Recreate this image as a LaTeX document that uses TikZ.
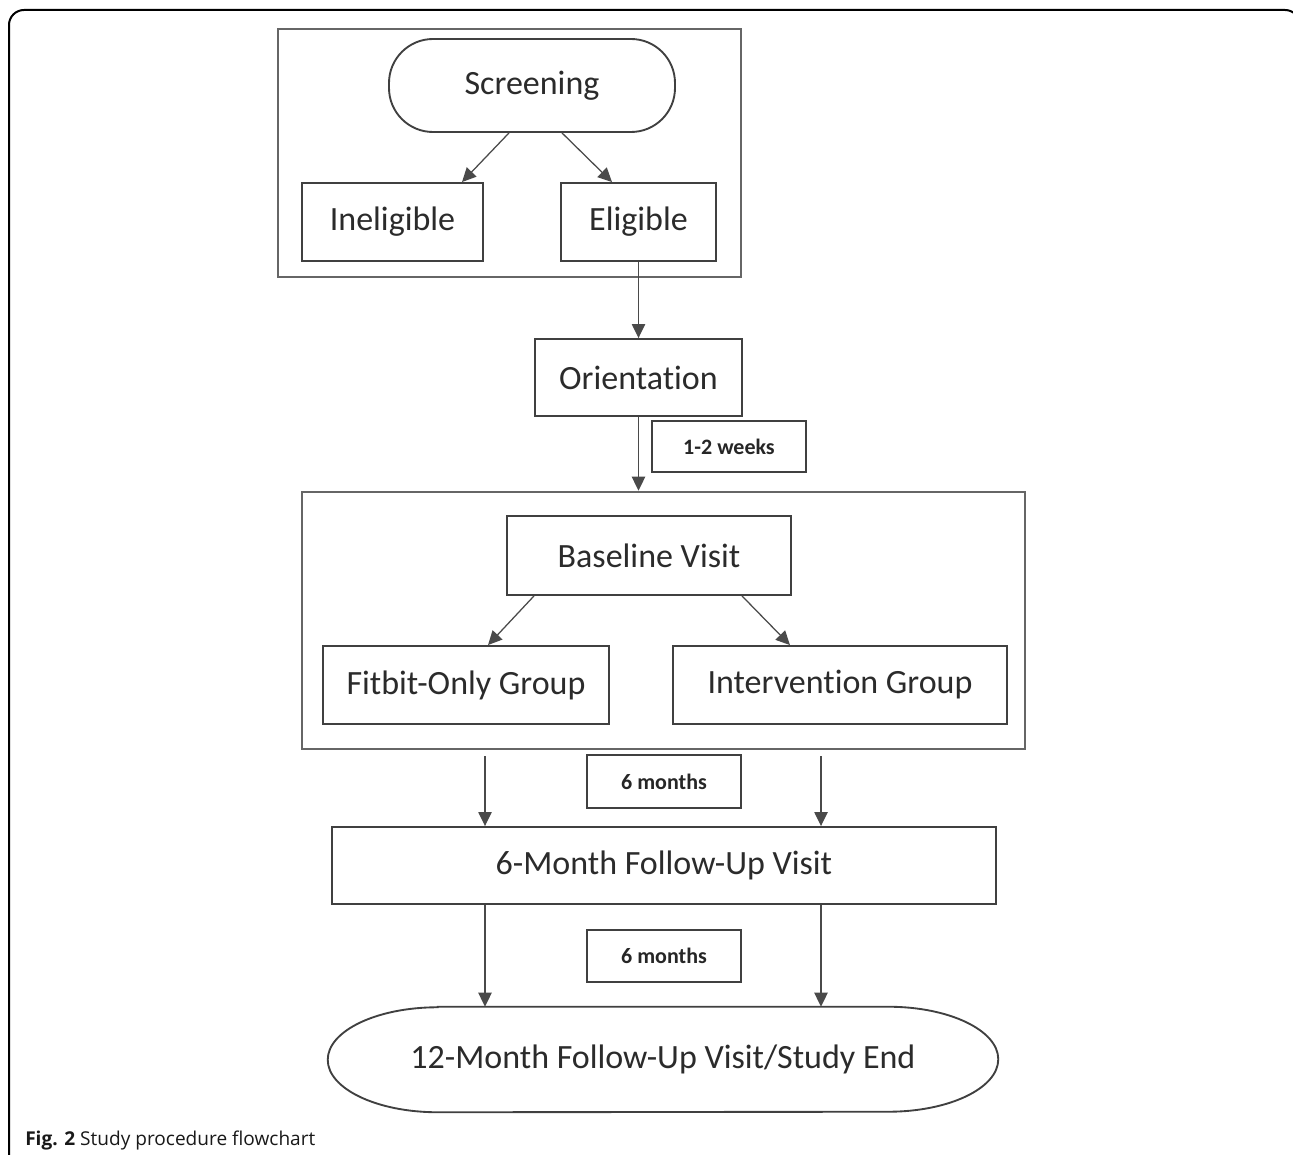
\documentclass[tikz,border=0pt]{standalone}
\usepackage{fontspec}
\setmainfont{Carlito}[Ligatures=NoCommon]
\newfontfamily\capfont{Open Sans}
\usetikzlibrary{arrows.meta,calc}
\definecolor{txt}{HTML}{2B2B2B}
\definecolor{edge}{HTML}{404040}
\definecolor{grpedge}{HTML}{666666}
\definecolor{conncol}{HTML}{4A4A4A}
\begin{document}
\begin{tikzpicture}[x=0.75pt,y=-0.75pt,
  sz/.style 2 args={minimum width=#1*0.75pt, minimum height=#2*0.75pt},
  box/.style={draw=edge,line width=1.4pt,rectangle,inner sep=0pt,text=txt,font=\fontsize{25.5}{30}\selectfont},
  grp/.style={draw=grpedge,line width=1.9pt,rectangle,inner sep=0pt},
  lbl/.style={draw=edge,line width=1.6pt,rectangle,inner sep=0pt,text=black!85,font=\bfseries\fontsize{16.5}{20}\selectfont},
  conn/.style={draw=conncol,line width=0.95pt,-{Triangle[length=10.5pt,width=10pt]}},
]
\useasboundingbox (0,0) rectangle (1293,1155);
\clip (0,0) rectangle (1293,1155);
\fill[white] (0,0) rectangle (1293,1155);

% outer frame
\draw[line width=1.5pt,black] (9,1160) -- (9,25) arc[start angle=180,end angle=90,radius=11.25pt]
  -- (1285,10) arc[start angle=90,end angle=0,radius=11.25pt] -- (1300,1160);

% top group
\node[grp,sz={463}{248}] (grp1) at (509.5,153) {};
\node[box,sz={286}{93},rounded corners=33pt] (scr) at (532,85.5) {Screening};
\node[box,sz={181}{78}] (inel) at (392.5,222) {Ineligible};
\node[box,sz={155}{78}] (elig) at (638.5,222) {Eligible};
\draw[conn] ($(scr.south)+(-23,0)$) -- ($(inel.north)+(69.5,0)$);
\draw[conn] ($(scr.south)+(30,0)$) -- ($(elig.north)+(-26.5,0)$);

% orientation
\node[box,sz={207}{77}] (ori) at (638.5,377.5) {Orientation};
\draw[conn] (elig.south) -- (ori.north);
\node[lbl,sz={154}{51}] (wk) at (729,446.5) {1-2 weeks};

% baseline group
\node[grp,sz={723}{257}] (grp2) at (663.5,620.5) {};
\draw[conn] (ori.south) -- (ori.south |- grp2.north);
\node[box,sz={284}{79}] (base) at (649,555.5) {Baseline Visit};
\node[box,sz={286}{78}] (fit) at (466,685) {Fitbit-Only Group};
\node[box,sz={334}{78}] (int) at (840,685) {Intervention Group};
\draw[conn] ($(base.south)+(-115,0)$) -- ($(fit.north)+(22,0)$);
\draw[conn] ($(base.south)+(93,0)$) -- ($(int.north)+(-50,0)$);

% 6-month follow-up
\node[lbl,sz={154}{53}] (m1) at (664,781.5) {6 months};
\node[box,sz={664}{77}] (fu) at (664,865.5) {6-Month Follow-Up Visit};
\draw[conn] ($(grp2.south)+(-178.5,6)$) -- ($(fu.north)+(-179,0)$);
\draw[conn] ($(grp2.south)+(157.5,6)$) -- ($(fu.north)+(157,0)$);

% 12-month end
\node[lbl,sz={154}{52}] (m2) at (664,956) {6 months};
\node[inner sep=0pt,sz={670}{105},text=txt,font=\fontsize{25.5}{30}\selectfont] (endn) at (663,1059.5) {12-Month Follow-Up Visit/Study End};
\draw[draw=edge,line width=1.4pt]
  ($(endn.north west)+(110,0)$) -- ($(endn.north east)+(-110,0)$)
  arc[start angle=90,end angle=-90,x radius=82.5pt,y radius=39.375pt]
  -- ($(endn.south west)+(110,0)$)
  arc[start angle=270,end angle=90,x radius=82.5pt,y radius=39.375pt] -- cycle;
\draw[conn] ($(fu.south)+(-179,0)$) -- ($(endn.north)+(-178,0)$);
\draw[conn] ($(fu.south)+(157,0)$) -- ($(endn.north)+(158,0)$);

% caption
\node[anchor=base west,inner sep=0pt,text=black!90,font=\capfont\fontsize{14.3}{17}\selectfont] (cap) at (25,1145) {\textbf{Fig. 2} Study procedure flowchart};
\end{tikzpicture}
\end{document}
